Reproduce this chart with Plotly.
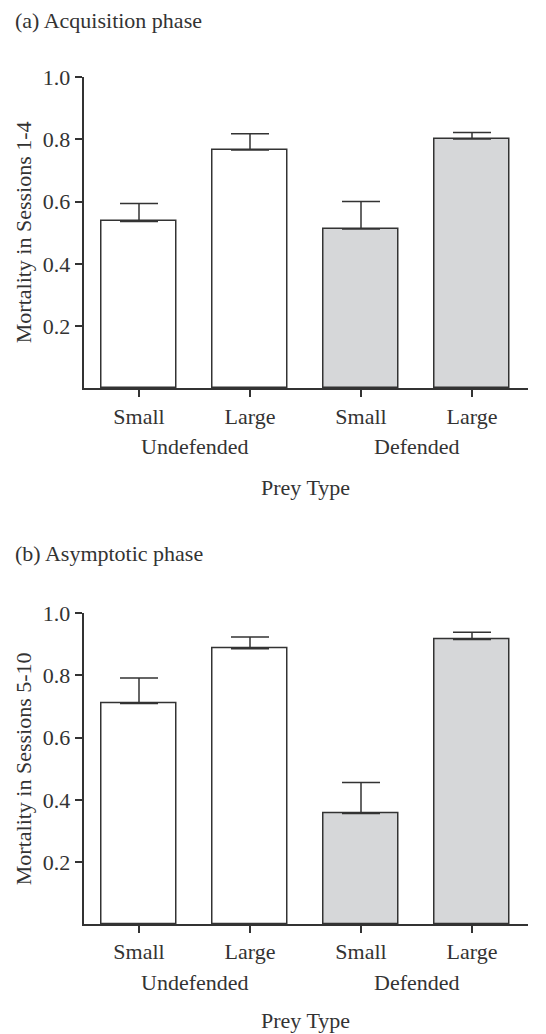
import plotly.graph_objects as go

# ---- data ----
size_labels = ["Small", "Large", "Small", "Large"]
defence_groups = ["Undefended", "Defended"]
group_members = [[0, 1], [2, 3]]
bar_fills = ["#ffffff", "#ffffff", "#d6d7d9", "#d6d7d9"]

acq_means = [0.536, 0.766, 0.512, 0.801]
acq_sem = [0.058, 0.052, 0.088, 0.021]
asy_means = [0.710, 0.886, 0.356, 0.916]
asy_sem = [0.082, 0.038, 0.100, 0.023]

panel_titles = ["(a) Acquisition phase", "(b) Asymptotic phase"]
y_titles = ["Mortality in Sessions 1-4", "Mortality in Sessions 5-10"]
y_ticks = [0.2, 0.4, 0.6, 0.8, 1.0]
y_ticktext = ["0.2", "0.4", "0.6", "0.8", "1.0"]
x_title = "Prey Type"

# ---- layout geometry ----
W, H = 546, 1034
FONT = "Liberation Serif"
FS = 22
INK = "#333333"


def fx(px):  # target screen x -> figure x (page offset)
    return px - 6.5


def fy(py):  # target screen y -> figure y
    return (py - 20.6) / 0.9857


x_left, x_right = fx(82), fx(526)
panels = [
    dict(top=77.5, bottom=388.0, title_y=21, grp_y=446, xt_y=487),
    dict(top=612.3, bottom=922.3, title_y=553, grp_y=980, xt_y=1018),
]
xs = list(range(len(size_labels)))

fig = go.Figure()
annotations = []
for i, (means, sems) in enumerate([(acq_means, acq_sem), (asy_means, asy_sem)]):
    p = panels[i]
    sfx = "" if i == 0 else str(i + 1)
    fig.add_trace(go.Bar(
        x=xs, y=means,
        xaxis="x" + sfx, yaxis="y" + sfx,
        width=0.667,
        marker=dict(color=bar_fills, line=dict(color=INK, width=1.5)),
        error_y=dict(type="data", symmetric=False, array=sems,
                     arrayminus=[0] * len(sems), color=INK, thickness=1.5, width=19),
        showlegend=False, hoverinfo="skip",
    ))
    xdom = [x_left / W, x_right / W]
    ydom = [1 - fy(p["bottom"]) / H, 1 - fy(p["top"]) / H]
    axis_common = dict(
        ticks="outside", ticklen=7, tickwidth=1.5, tickcolor=INK,
        showline=True, linecolor=INK, linewidth=1.5,
        showgrid=False, zeroline=False,
        tickfont=dict(family=FONT, size=FS, color=INK),
    )
    fig.update_layout(**{
        "xaxis" + sfx: dict(domain=xdom, anchor="y" + sfx,
                            range=[-0.5, len(xs) - 0.5],
                            tickvals=xs, ticktext=size_labels, **axis_common),
        "yaxis" + sfx: dict(domain=ydom, anchor="x" + sfx, range=[0, 1.0],
                            tickvals=y_ticks, ticktext=y_ticktext, **axis_common),
    })
    # panel title
    annotations.append(dict(
        text=panel_titles[i], xref="paper", yref="paper",
        x=fx(11) / W, y=1 - fy(p["title_y"]) / H, xanchor="left", yanchor="middle",
        showarrow=False, font=dict(family=FONT, size=FS, color=INK)))
    # y title
    annotations.append(dict(
        text=y_titles[i], xref="paper", yref="paper", textangle=-90,
        x=fx(22) / W, y=1 - fy((p["top"] + p["bottom"]) / 2) / H,
        xanchor="center", yanchor="middle",
        showarrow=False, font=dict(family=FONT, size=FS, color=INK)))
    # group labels
    for g, members in zip(defence_groups, group_members):
        annotations.append(dict(
            text=g, xref="x" + sfx, yref="paper",
            x=sum(xs[m] for m in members) / len(members),
            y=1 - fy(p["grp_y"]) / H, xanchor="center", yanchor="middle",
            showarrow=False, font=dict(family=FONT, size=FS, color=INK)))
    # x title
    annotations.append(dict(
        text=x_title, xref="paper", yref="paper",
        x=(x_left + x_right) / 2 / W, y=1 - fy(p["xt_y"]) / H,
        xanchor="center", yanchor="middle",
        showarrow=False, font=dict(family=FONT, size=FS, color=INK)))

fig.update_layout(
    width=W, height=H, margin=dict(l=0, r=0, t=0, b=0),
    paper_bgcolor="white", plot_bgcolor="white",
    annotations=annotations, bargap=0,
    font=dict(family=FONT, size=FS, color=INK),
)
fig.write_html("out.html")
